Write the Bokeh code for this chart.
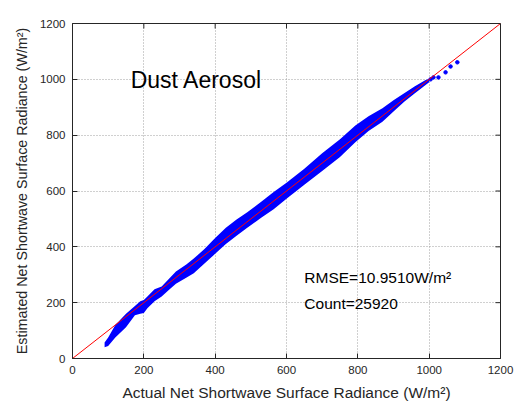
import math
from bokeh.plotting import figure
from bokeh.models import FixedTicker, ColumnDataSource
from bokeh.core.properties import value
from bokeh.embed import file_html
from bokeh.resources import INLINE

# --- data ---
band_x  = [90, 100, 120, 150, 175, 190, 200, 210, 230, 250, 270, 290, 320, 340, 370, 400, 430, 460,
           490, 530, 564, 600, 650, 700, 750, 793, 830, 869, 900, 930, 960, 990, 1000]
band_lo = [40, 45, 75, 112, 155, 160, 163, 180, 205, 222, 245, 268, 290, 305, 340, 375, 410, 440,
           468, 505, 535, 572, 622, 672, 722, 775, 815, 848, 885, 920, 950, 980, 990]
band_hi = [57, 75, 120, 160, 188, 205, 210, 222, 248, 258, 285, 312, 338, 358, 392, 432, 468, 498,
           524, 562, 596, 630, 680, 735, 785, 835, 868, 896, 925, 950, 975, 998, 1002]
outlier_x = [1004, 1012, 1026, 1046, 1060, 1079]
outlier_y = [1000, 1007, 1007, 1025, 1046, 1061]
line_x = [0, 1200]
line_y = [0, 1200]
ticks = [0, 200, 400, 600, 800, 1000, 1200]
title_text = "Dust Aerosol"
stats_text = ["RMSE=10.9510W/m²", "Count=25920"]
x_label = "Actual Net Shortwave Surface Radiance (W/m²)"
y_label = "Estimated Net Shortwave Surface Radiance (W/m²)"

FONT = "Liberation Sans"
TXT = "#262626"

p = figure(width=522, height=405, x_range=(0, 1200), y_range=(0, 1200),
           output_backend="svg", toolbar_location=None,
           min_border_left=72, min_border_right=22, min_border_top=23, min_border_bottom=47)
p.background_fill_color = "white"
p.border_fill_color = "white"
p.outline_line_color = "#262626"
p.outline_line_width = 1

band = ColumnDataSource(dict(x=band_x, lo=band_lo, hi=band_hi))
p.varea(x="x", y1="lo", y2="hi", source=band, fill_color="#0000ff")
p.scatter(outlier_x, outlier_y, marker="circle", size=3.5, color="#0000ff")
p.line(line_x, line_y, line_color="#ff0000", line_width=1)

p.text(x=[163], y=[996], text=[title_text], text_font=value(FONT),
       text_font_size=value("23px"), text_baseline="middle", text_align="left", text_color="black")
p.text(x=[650, 650], y=[290, 197], text=stats_text, text_font=value(FONT),
       text_font_size=value("15.5px"), text_baseline="middle", text_align="left", text_color="black")

# inward ticks on the top and right edges of the box
top_ticks = ColumnDataSource(dict(x=ticks, y=[ticks[-1]] * len(ticks)))
right_ticks = ColumnDataSource(dict(x=[ticks[-1]] * len(ticks), y=ticks))
p.ray(x="x", y="y", source=top_ticks, length=5, length_units="screen",
      angle=-math.pi / 2, line_color="#262626", line_width=1)
p.ray(x="x", y="y", source=right_ticks, length=5, length_units="screen",
      angle=math.pi, line_color="#262626", line_width=1)

for ax in (p.xaxis[0], p.yaxis[0]):
    ax.ticker = FixedTicker(ticks=ticks)
    ax.major_tick_in = 5
    ax.major_tick_out = 0
    ax.minor_tick_line_color = None
    ax.axis_line_color = "#262626"
    ax.major_tick_line_color = "#262626"
    ax.major_label_text_font = FONT
    ax.major_label_text_font_size = "11.5px"
    ax.major_label_text_color = TXT
    ax.axis_label_text_font = FONT
    ax.axis_label_text_font_style = "normal"
    ax.axis_label_text_color = TXT
    ax.major_label_standoff = 7
    ax.axis_label_standoff = 7
p.xaxis[0].axis_label = x_label
p.yaxis[0].axis_label = y_label
p.xaxis[0].axis_label_text_font_size = "15.5px"
p.yaxis[0].axis_label_text_font_size = "14.3px"

for g in (p.xgrid[0], p.ygrid[0]):
    g.grid_line_color = "#a0a0a0"
    g.grid_line_dash = "1 2"
    g.grid_line_width = 1

open("out.html", "w").write(file_html(p, INLINE))
